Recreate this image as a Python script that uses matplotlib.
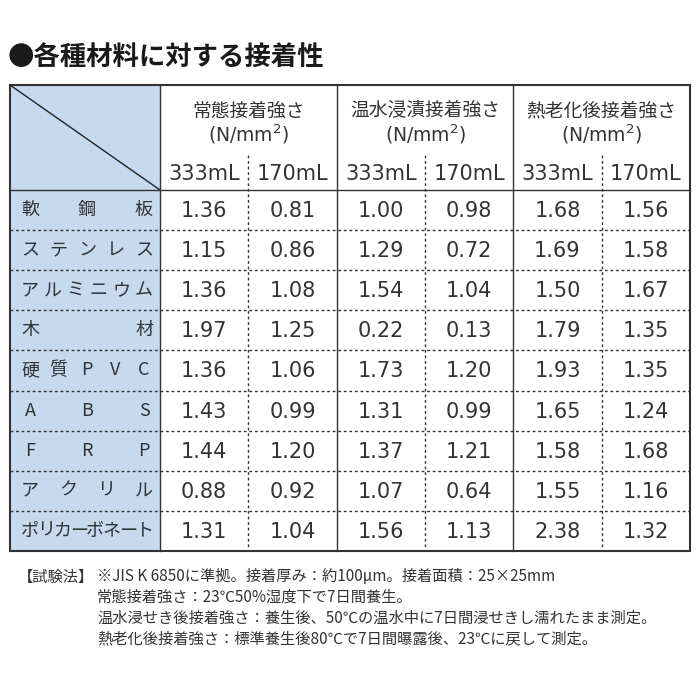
import matplotlib
matplotlib.use("Agg")
import matplotlib.pyplot as plt

plt.rcParams['font.family'] = ['Noto Sans CJK JP', 'DejaVu Sans']

title = "●各種材料に対する接着性"
groups = ["常態接着強さ", "温水浸漬接着強さ", "熱老化後接着強さ"]
subs = ["333mL", "170mL"]
materials = ["軟鋼板", "ステンレス", "アルミニウム", "木材", "硬質PVC",
             "ABS", "FRP", "アクリル", "ポリカーボネート"]
values = [
    [1.36, 0.81, 1.00, 0.98, 1.68, 1.56],
    [1.15, 0.86, 1.29, 0.72, 1.69, 1.58],
    [1.36, 1.08, 1.54, 1.04, 1.50, 1.67],
    [1.97, 1.25, 0.22, 0.13, 1.79, 1.35],
    [1.36, 1.06, 1.73, 1.20, 1.93, 1.35],
    [1.43, 0.99, 1.31, 0.99, 1.65, 1.24],
    [1.44, 1.20, 1.37, 1.21, 1.58, 1.68],
    [0.88, 0.92, 1.07, 0.64, 1.55, 1.16],
    [1.31, 1.04, 1.56, 1.13, 2.38, 1.32],
]
notes = [
    "※JIS K 6850に準拠。接着厚み：約100μm。接着面積：25×25mm",
    "常態接着強さ：23℃50%湿度下で7日間養生。",
    "温水浸せき後接着強さ：養生後、50℃の温水中に7日間浸せきし濡れたまま測定。",
    "熱老化後接着強さ：標準養生後80℃で7日間曝露後、23℃に戻して測定。",
]

fig = plt.figure(figsize=(7, 7), dpi=100)
ax = fig.add_axes([0, 0, 1, 1])
ax.set_xlim(0, 700)
ax.set_ylim(700, 0)
ax.axis("off")

txt = "#333333"
left, right, top = 10, 690, 85
label_r = 160
head_mid = 155
head_bot = 190
row_h = 40.1
bottom = head_bot + row_h * len(materials)
col_x = [label_r + i * (right - label_r) / 6 for i in range(7)]

ax.text(8, 57, title, fontsize=19, fontweight="bold", color="#1a1a1a", va="center")

# left column fill
ax.add_patch(plt.Rectangle((left, top), label_r - left, bottom - top,
                           facecolor="#c6d9ef", edgecolor="none"))
ax.plot([left, label_r], [top, head_bot], color="#222222", lw=1)

# headers
for g, name in enumerate(groups):
    cx = (col_x[2 * g] + col_x[2 * g + 2]) / 2
    ax.text(cx, 111, name, fontsize=13.5, color=txt, ha="center", va="center")
    ax.text(cx, 134, "(N/mm$^2$)", fontsize=13.5, color=txt, ha="center", va="center",
            family="DejaVu Sans")
    for s in range(2):
        c = 2 * g + s
        ax.text((col_x[c] + col_x[c + 1]) / 2, 174, subs[s], fontsize=15, color=txt,
                ha="center", va="center", family="DejaVu Sans")

# rows
for r, mat in enumerate(materials):
    cy = head_bot + row_h * (r + 0.5)
    chars = list(mat)
    if len(chars) > 1:
        x0, x1 = 30, 144
        for k, ch in enumerate(chars):
            ax.text(x0 + (x1 - x0) * k / (len(chars) - 1), cy, ch, fontsize=13,
                    color=txt, ha="center", va="center")
    for c, v in enumerate(values[r]):
        ax.text((col_x[c] + col_x[c + 1]) / 2, cy + 1, f"{v:.2f}", fontsize=15,
                color=txt, ha="center", va="center", family="DejaVu Sans")
    if r > 0:
        ax.plot([left, right], [head_bot + row_h * r] * 2, color="#333333", lw=1,
                ls=(0, (2, 2)))

# vertical lines
for c in range(1, 6, 2):
    ax.plot([col_x[c]] * 2, [head_mid, bottom], color="#333333", lw=1, ls=(0, (2, 2)))
for c in [0, 2, 4]:
    ax.plot([col_x[c]] * 2, [top, bottom], color="#333333", lw=1)
ax.plot([left, right], [head_bot] * 2, color="#333333", lw=1)
ax.add_patch(plt.Rectangle((left, top), right - left, bottom - top, facecolor="none",
                           edgecolor="#333333", lw=1.5))

# notes
ax.text(18, 577, "【試験法】", fontsize=11, color=txt, va="center")
for i, n in enumerate(notes):
    ax.text(97, 577 + 20.5 * i, n, fontsize=11, color=txt, va="center")

fig.savefig("out.png", dpi=100)
